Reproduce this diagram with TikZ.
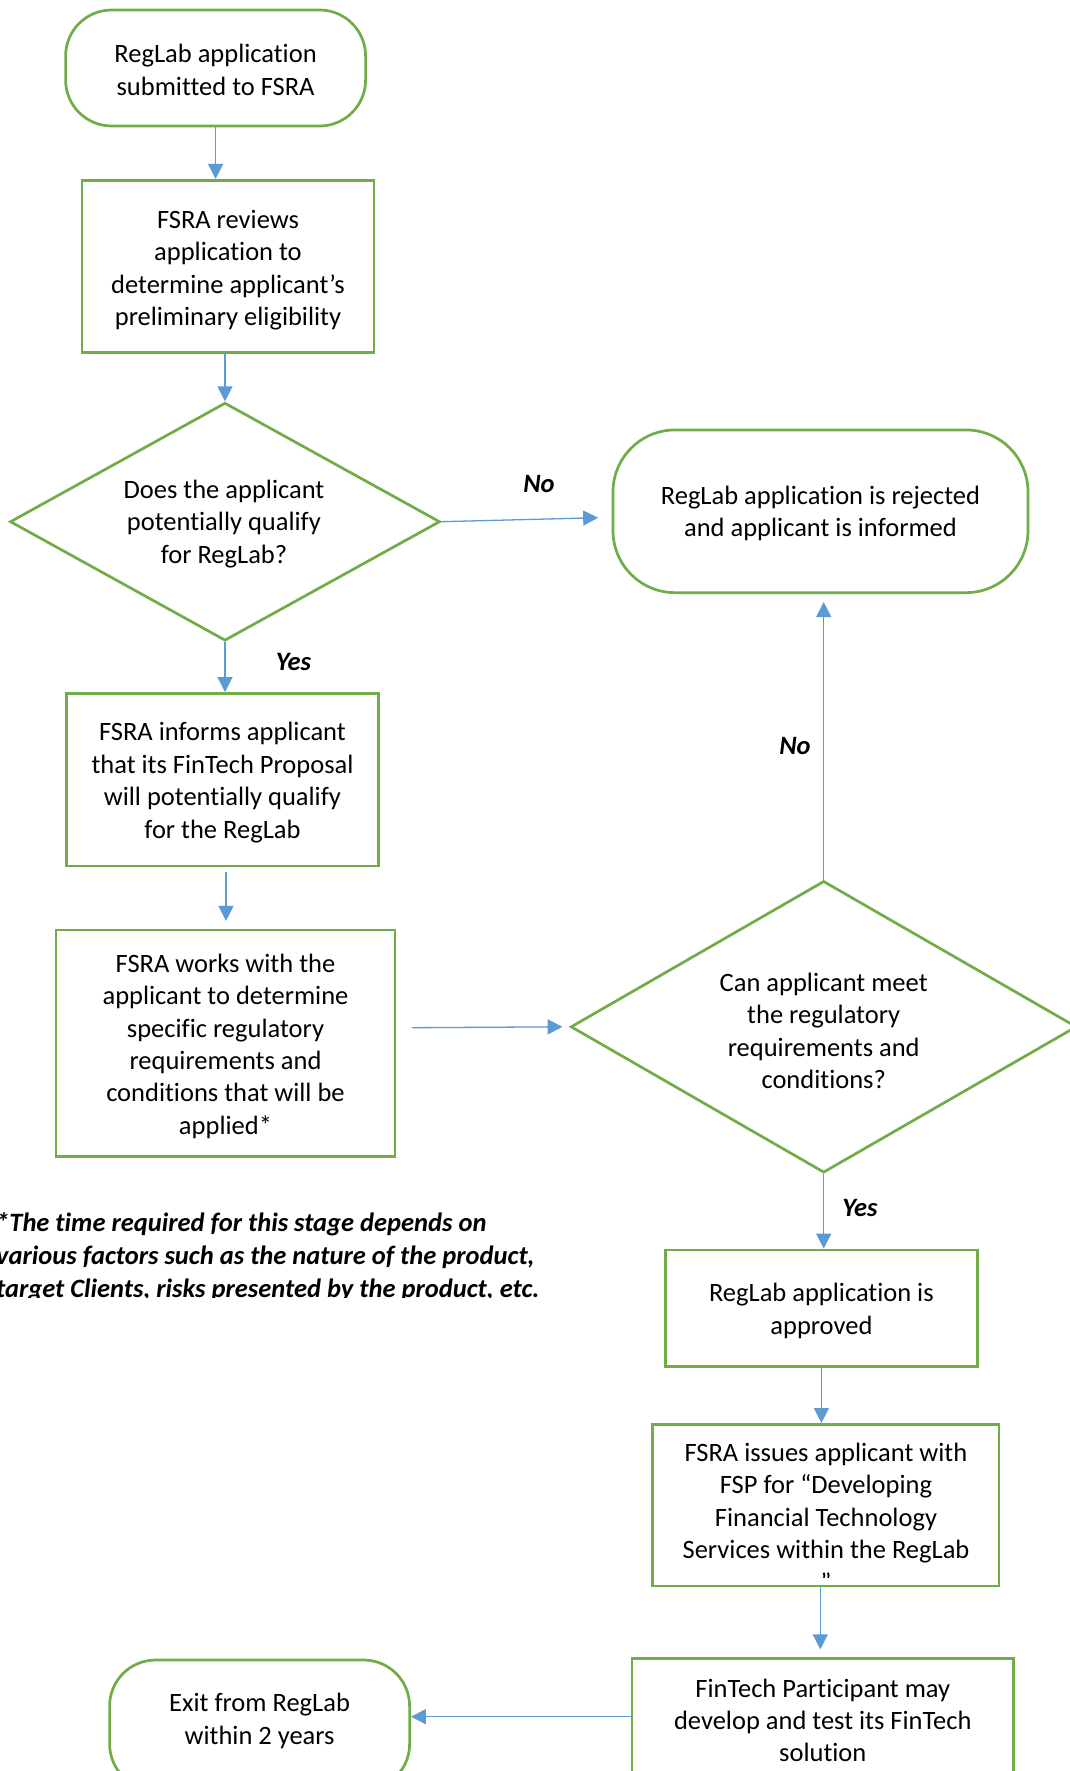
\documentclass[tikz,border=0pt]{standalone}
\usepackage{fontspec}
\setmainfont{Carlito}[Ligatures=NoCommon]
\usetikzlibrary{shapes.geometric,arrows.meta,calc}
\definecolor{grn}{RGB}{112,173,71}
\definecolor{blu}{RGB}{91,155,213}
\newcommand\bodyfont{\fontsize{26.5}{32.4}\selectfont}
\newcommand\notefont{\fontsize{26.5}{32.8}\selectfont\bfseries\itshape}
\tikzset{
  box/.style={draw=grn, line width=2.7pt, rectangle, inner sep=0pt},
  term/.style={box, rounded corners=46pt},
  dec/.style={draw=grn, line width=2.7pt, diamond, aspect=1.8, inner sep=0pt},
  txt/.style={font=\bodyfont, align=center, inner sep=0pt},
  arr/.style={draw=blu, line width=1.3pt, -{Triangle[width=15pt,length=15pt]}},
  lbl/.style={font=\bodyfont\bfseries\itshape, inner sep=0pt}
}
\begin{document}
\begin{tikzpicture}[x=1pt,y=-1pt]
\useasboundingbox (0,0) rectangle (1070,1771);
\clip (0,0) rectangle (1070,1771);
\fill[white] (0,0) rectangle (1070,1771);

% shapes
\node[term, minimum width=300pt, minimum height=116pt] (n1) at (215.6,68) {};
\node[box, minimum width=292pt, minimum height=172.4pt] (b2) at (228,266.5) {};
\node[dec, minimum width=430pt, minimum height=238pt] (d1) at (225,521.7) {};
\node[box, rounded corners=62pt, minimum width=415pt, minimum height=162.7pt] (rej) at (820.5,511.3) {};
\node[box, minimum width=312.5pt, minimum height=172.7pt] (b3) at (222.5,779.7) {};
\node[box, minimum width=339pt, minimum height=226.7pt] (b4) at (225.5,1043.3) {};
\node[dec, minimum width=506pt, minimum height=291.7pt] (d2) at (823.7,1026.8) {};
\node[box, minimum width=312pt, minimum height=116.7pt] (b5) at (821.4,1308.3) {};
\node[box, minimum width=346.3pt, minimum height=161.7pt] (b6) at (825.8,1505.2) {};
\node[box, minimum width=381.7pt, minimum height=124pt] (b7) at (822.8,1720.3) {};
\node[term, minimum width=300pt, minimum height=130pt] (ex) at (259.6,1725) {};

% texts
\node[txt] (n1t) at ($(n1)+(0,2)$) {RegLab application\\submitted to FSRA};
\node[txt] (b2t) at ($(b2)+(0,3.8)$) {FSRA reviews\\application to\\determine applicant’s\\preliminary eligibility};
\node[txt] (d1t) at ($(d1)+(-1,2.3)$) {Does the applicant\\potentially qualify\\for RegLab?};
\node[txt] (rejt) at ($(rej)+(0,2.3)$) {RegLab application is rejected\\and applicant is informed};
\node[txt] (b3t) at ($(b3)+(0,2.8)$) {FSRA informs applicant\\that its FinTech Proposal\\will potentially qualify\\for the RegLab};
\node[txt] (b4t) at ($(b4)+(0,3)$) {FSRA works with the\\applicant to determine\\specific regulatory\\requirements and\\conditions that will be\\applied*};
\node[txt] (d2t) at ($(d2)+(0,4)$) {Can applicant meet\\the regulatory\\requirements and\\conditions?};
\node[txt] (b5t) at ($(b5)+(0,2.8)$) {RegLab application is\\approved};
\begin{scope}
\clip (655,1427) rectangle (996,1577);
\node[txt] (b6t) at (826,1517) {FSRA issues applicant with\\FSP for “Developing\\Financial Technology\\Services within the RegLab\\”};
\end{scope}
\node[txt] (b7t) at (b7) {FinTech Participant may\\develop and test its FinTech\\solution};
\node[txt] (ext) at ($(ex)+(0,-4)$) {Exit from RegLab\\within 2 years};

\begin{scope}
\clip (-10,1190) rectangle (700,1297);
\node[anchor=west, align=left, font=\notefont, inner sep=0pt] (note) at (-4,1257.4) {*The time required for this stage depends on\\various factors such as the nature of the product,\\target Clients, risks presented by the product, etc.};
\end{scope}

% connectors
\coordinate (c5a) at ($(b3.south)+(3.5,4.7)$);
\coordinate (c5b) at ($(b4.north)+(0,-7.7)$);
\coordinate (c6a) at ($(b4.east)+(15.8,-15.6)$);
\coordinate (c10a) at ($(b6.south)+(-5.5,0)$);
\coordinate (c10b) at ($(b7.north)+(0,-7.6)$);
\coordinate (c11a) at ($(b7.west)+(0,-3.6)$);

\draw[arr] (n1.south) -- (n1.south |- b2.north);
\draw[arr] (d1.north |- b2.south) -- (d1.north);
\draw[arr] (d1.east) -- ($(rej.west)+(-13.5,6.4)$);
\draw[arr] (d1.south) -- (d1.south |- b3.north);
\draw[arr] (c5a) -- (c5a |- c5b);
\draw[arr] (c6a) -- ($(d2.west)+(-6.8,0)$);
\draw[arr] (d2.north) -- ($(d2.north |- rej.south)+(0,8)$);
\draw[arr] (d2.south) -- (d2.south |- b5.north);
\draw[arr] (b5.south) -- (b5.south |- b6.north);
\draw[arr] (c10a) -- (c10a |- c10b);
\draw[arr] (c11a) -- (c11a -| ex.east);

% labels
\node[lbl] (no1) at (539,484) {No};
\node[lbl] (yes1) at (293.4,661.7) {Yes};
\node[lbl] (no2) at (795,745.7) {No};
\node[lbl] (yes2) at (859.9,1208.3) {Yes};
\end{tikzpicture}
\end{document}
